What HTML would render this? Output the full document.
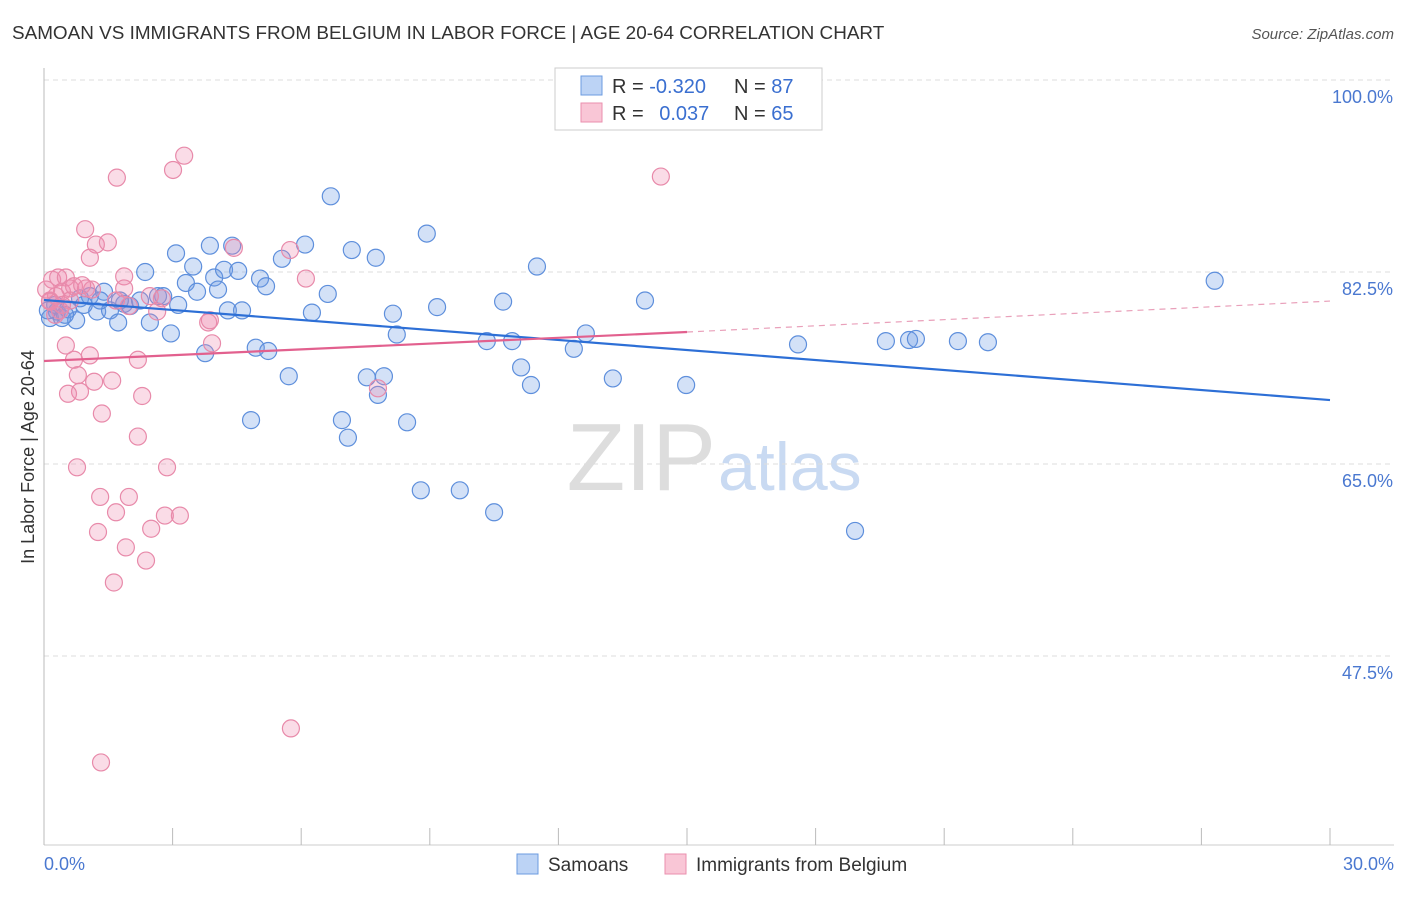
<!DOCTYPE html>
<html><head><meta charset="utf-8"><style>
body{margin:0;background:#fff;font-family:"Liberation Sans",sans-serif}
svg text{font-family:"Liberation Sans",sans-serif}
</style></head><body>
<svg id="chart" width="1406" height="892">
<text x="12" y="39" font-size="18.9" fill="#333">SAMOAN VS IMMIGRANTS FROM BELGIUM IN LABOR FORCE | AGE 20-64 CORRELATION CHART</text>
<text x="1394" y="39" font-size="15" fill="#555" text-anchor="end" font-style="italic">Source: ZipAtlas.com</text>
<text x="716" y="490" font-size="96" fill="#ddd" text-anchor="end" font-family="Liberation Serif">ZIP</text>
<text x="718" y="490" font-size="68" fill="#c9daf2">atlas</text>
<text transform="translate(34,457) rotate(-90)" font-size="18" fill="#333" text-anchor="middle">In Labor Force | Age 20-64</text>
<g id="grid"></g><g id="pts"></g><g id="lines"></g>
<g>
<rect x="555" y="68" width="267" height="62" fill="#fff" stroke="#ccc"/>
<rect x="581" y="76" width="21" height="19" fill="#bcd3f5" stroke="#6b9be0"/>
<rect x="581" y="103" width="21" height="19" fill="#f9c6d6" stroke="#ea8fae"/>
<text x="612" y="93" font-size="20" fill="#333">R = <tspan fill="#3a6fd0">-0.320</tspan></text>
<text x="734" y="93" font-size="20" fill="#333">N = <tspan fill="#3a6fd0">87</tspan></text>
<text x="612" y="120" font-size="20" fill="#333">R = <tspan fill="#3a6fd0" dx="10">0.037</tspan></text>
<text x="734" y="120" font-size="20" fill="#333">N = <tspan fill="#3a6fd0">65</tspan></text>
</g>
<g>
<rect x="517" y="854" width="21" height="20" fill="#bcd3f5" stroke="#6b9be0"/>
<text x="548" y="871" font-size="19" fill="#333">Samoans</text>
<rect x="665" y="854" width="21" height="20" fill="#f9c6d6" stroke="#ea8fae"/>
<text x="696" y="871" font-size="19" fill="#333">Immigrants from Belgium</text>
</g>
</svg>
<script>
const yTicks=[100,82.5,65,47.5];
const yTickLabels=["100.0%","82.5%","65.0%","47.5%"];
const xTickLabels=["0.0%","30.0%"];
const blueX=[.14,.30,.42,.56,.75,.84,1.07,1.24,1.40,1.54,1.73,1.87,2.01,2.24,2.36,2.47,2.66,2.78,2.96,3.13,3.08,3.31,3.48,3.57,3.76,3.87,3.97,4.06,4.20,4.29,4.39,4.53,4.62,4.83,4.94,5.04,5.18,5.23,5.55,5.71,6.09,6.25,6.62,6.69,6.95,7.09,7.18,7.53,7.74,7.79,7.93,8.14,8.23,8.47,8.79,8.93,9.17,9.70,10.33,10.50,10.71,10.92,11.13,11.36,11.50,12.36,12.64,13.27,14.02,14.98,17.59,18.92,19.64,20.18,20.34,21.32,22.02,27.31,.09,.26,.49,.93,1.31,1.77];
const blueY=[78.3,78.9,78.3,79.1,78.1,80.1,80.3,78.9,80.7,79.0,77.9,79.6,79.4,79.9,82.5,77.9,80.3,80.3,76.9,79.5,84.2,81.5,83.0,80.7,75.1,84.9,82.0,80.9,82.7,79.0,84.9,82.6,79.0,69.0,75.6,81.9,81.2,75.3,83.7,73.0,85.0,78.8,80.5,89.4,69.0,67.4,84.5,72.9,83.8,71.3,73.0,78.7,76.8,68.8,62.6,86.0,79.3,62.6,76.2,60.6,79.8,76.2,73.8,72.2,83.0,75.5,76.9,72.8,79.9,72.2,75.9,58.9,76.2,76.3,76.4,76.2,76.1,81.7,79.0,79.5,78.6,79.5,79.9,79.9];
const pinkX=[.19,.33,.42,.51,.61,.70,.14,.28,.05,.96,.98,1.12,1.21,1.07,1.49,1.70,1.87,1.87,1.98,2.47,2.64,3.01,3.27,2.19,.51,.70,.79,1.07,.84,.56,1.17,1.35,1.59,2.29,2.19,.77,2.87,1.31,1.98,1.68,1.26,2.82,3.17,2.50,1.91,2.38,1.63,4.43,3.83,3.87,3.92,5.74,6.11,7.79,14.39,1.33,5.76,.37,.14,.26,.61,.42,.89,1.68,2.75];
const pinkY=[81.8,82.0,80.7,82.0,81.0,81.2,79.9,80.3,80.9,86.4,81.0,80.9,85.0,83.8,85.2,91.1,82.1,81.0,79.4,80.3,78.9,91.8,93.1,74.5,75.8,74.5,73.1,74.9,71.6,71.4,72.5,69.6,72.6,71.2,67.5,64.7,64.7,62.0,62.0,60.6,58.8,60.3,60.3,59.1,57.4,56.2,54.2,84.7,77.9,78.1,76.0,84.5,81.9,71.9,91.2,37.8,40.9,79.0,79.8,78.6,79.9,79.5,81.3,79.9,80.1];
const blueTrend=[79.95,70.83];
const pinkTrend=[74.39,77.03,79.85];
const NS="http://www.w3.org/2000/svg";
const xs=v=>44+v/30*1286, ys=v=>80+(100-v)/17.5*192;
function mk(t,a,p){const e=document.createElementNS(NS,t);for(const k in a)e.setAttribute(k,a[k]);p.appendChild(e);return e;}
const grid=document.getElementById('grid');
yTicks.forEach((t,i)=>{
 const l=mk('line',{x1:44,x2:1394,y1:ys(t),y2:ys(t),stroke:'#ddd','stroke-dasharray':'5,4'},grid);
 
 
 const tx=mk('text',{x:1393,y:ys(t)+23,'font-size':18,fill:'#4a78d0','text-anchor':'end'},grid);tx.textContent=yTickLabels[i];
 
 
});
mk('line',{x1:44,x2:44,y1:68,y2:845,stroke:'#bbb'},grid);
mk('line',{x1:44,x2:1394,y1:845,y2:845,stroke:'#ccc'},grid);
for(let k=0;k<=10;k++){const x=xs(k*3);const t=mk('line',{x1:x,x2:x,y1:828,y2:845,stroke:'#bbb'},grid);
 
 }
[[0,'start',44],[30,'end',1394]].forEach((d,i)=>{const t=mk('text',{x:d[2],y:870,'font-size':18,fill:'#4a78d0','text-anchor':d[1]},grid);t.textContent=xTickLabels[i];
 
 });
const pts=document.getElementById('pts');
blueX.forEach((v,i)=>{const c=mk('circle',{cx:xs(v),cy:ys(blueY[i]),r:8.5,fill:'rgba(110,155,230,0.3)',stroke:'#5e8fdc','stroke-width':1.2},pts);
 
 });
pinkX.forEach((v,i)=>{const c=mk('circle',{cx:xs(v),cy:ys(pinkY[i]),r:8.5,fill:'rgba(240,140,175,0.3)',stroke:'#e88aaa','stroke-width':1.2},pts);
 
 });
const lines=document.getElementById('lines');
const b=mk('line',{x1:xs(0),y1:ys(blueTrend[0]),x2:xs(30),y2:ys(blueTrend[1]),stroke:'#2d6fd6','stroke-width':2.2},lines);


const p=mk('line',{x1:xs(0),y1:ys(pinkTrend[0]),x2:xs(15),y2:ys(pinkTrend[1]),stroke:'#e2608e','stroke-width':2.2},lines);


const pd=mk('line',{x1:xs(15),y1:ys(pinkTrend[1]),x2:xs(30),y2:ys(pinkTrend[2]),stroke:'#e9a0ba','stroke-width':1.2,'stroke-dasharray':'6,5'},lines);


</script>
</body></html>
